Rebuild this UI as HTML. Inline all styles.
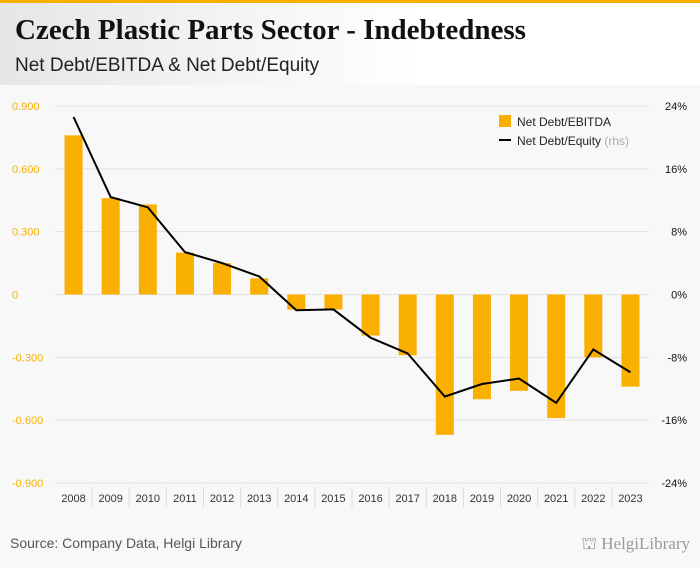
<!DOCTYPE html>
<html><head><meta charset="utf-8"><style>
body{margin:0;width:700px;height:568px;overflow:hidden;background:#f8f8f8;font-family:"Liberation Sans",sans-serif;}
#hdr{position:absolute;left:0;top:0;width:700px;height:85px;background:linear-gradient(90deg,#e6e6e6,#fff 60%);border-top:3px solid #f9b000;box-sizing:border-box;}
#title{position:absolute;left:15px;top:11px;font:bold 29px "Liberation Serif",serif;color:#111;}
#sub{position:absolute;left:15px;top:52px;font-size:19px;color:#222;}
#src{position:absolute;left:10px;top:535px;font-size:14px;color:#555;}
#logo{position:absolute;right:10px;top:534px;font:17px "Liberation Serif",serif;color:#999;}
svg{position:absolute;left:0;top:0;}
</style></head><body>
<div id="hdr">
<div id="title">Czech Plastic Parts Sector - Indebtedness</div>
<div id="sub">Net Debt/EBITDA &amp; Net Debt/Equity</div>
</div>
<svg id="chart" width="700" height="568"></svg>
<div id="src">Source: Company Data, Helgi Library</div>
<div id="logo">⛫ HelgiLibrary</div>
<script>
const years=["2008","2009","2010","2011","2012","2013","2014","2015","2016","2017","2018","2019","2020","2021","2022","2023"];
const debtEbitda=[0.76,0.46,0.43,0.20,0.15,0.077,-0.072,-0.072,-0.196,-0.29,-0.67,-0.50,-0.46,-0.59,-0.30,-0.44];
const debtEquity=[22.6,12.4,11.1,5.4,4.0,2.3,-2.0,-1.9,-5.5,-7.5,-13.0,-11.4,-10.7,-13.8,-7.0,-9.9];
const leftTicks=[0.9,0.6,0.3,0,-0.3,-0.6,-0.9];
const leftTickLabels=["0.900","0.600","0.300","0","-0.300","-0.600","-0.900"];
const rightTicks=[24,16,8,0,-8,-16,-24];
const rightTickLabels=["24%","16%","8%","0%","-8%","-16%","-24%"];
const NS="http://www.w3.org/2000/svg";
const svg=document.getElementById('chart');
const x0=55,x1=649,yTop=106,yBot=483;
const yL=v=>yTop+(0.9-v)/1.8*(yBot-yTop);
const yR=v=>yTop+(24-v)/48*(yBot-yTop);
const step=(x1-x0)/years.length;
const xC=i=>x0+step*(i+0.5);
function mk(t,a){const e=document.createElementNS(NS,t);for(const k in a)e.setAttribute(k,a[k]);svg.appendChild(e);return e;}
leftTicks.forEach((v,i)=>{
 const l=mk('line',{x1:x0,x2:x1,y1:yL(v),y2:yL(v),stroke:'#e2e2e2','stroke-width':1});
 
 
 const t=mk('text',{x:12,y:yL(v)+4,'font-size':11,fill:'#f9b000'});t.textContent=leftTickLabels[i];
 
 
});
rightTicks.forEach((v,i)=>{
 const t=mk('text',{x:687,y:yR(v)+4,'font-size':11,fill:'#111','text-anchor':'end'});t.textContent=rightTickLabels[i];
 
 
});
debtEbitda.forEach((v,i)=>{
 const y=Math.min(yL(v),yL(0)),h=Math.abs(yL(v)-yL(0));
 const r=mk('rect',{x:xC(i)-9,y:y,width:18,height:h,fill:'#f9b000'});
 
 
});
years.forEach((yr,i)=>{
 const t=mk('text',{x:xC(i),y:502,'font-size':11,fill:'#333','text-anchor':'middle'});t.textContent=yr;
 
 
 if(i>0){const s=mk('line',{x1:x0+step*i,x2:x0+step*i,y1:487,y2:508,stroke:'#ddd'});
 
 }
});
const p=mk('polyline',{points:debtEquity.map((v,i)=>xC(i)+','+yR(v)).join(' '),fill:'none',stroke:'#000','stroke-width':2});


const lr=mk('rect',{x:499,y:115,width:12,height:12,fill:'#f9b000'});


const lt=mk('text',{x:517,y:126,'font-size':12,fill:'#222'});lt.textContent='Net Debt/EBITDA';


const ll=mk('line',{x1:499,x2:511,y1:140,y2:140,stroke:'#000','stroke-width':2});


const lt2=mk('text',{x:517,y:145,'font-size':12,fill:'#222'});lt2.innerHTML='Net Debt/Equity <tspan fill="#aaa">(rhs)</tspan>';


</script>
</body></html>
